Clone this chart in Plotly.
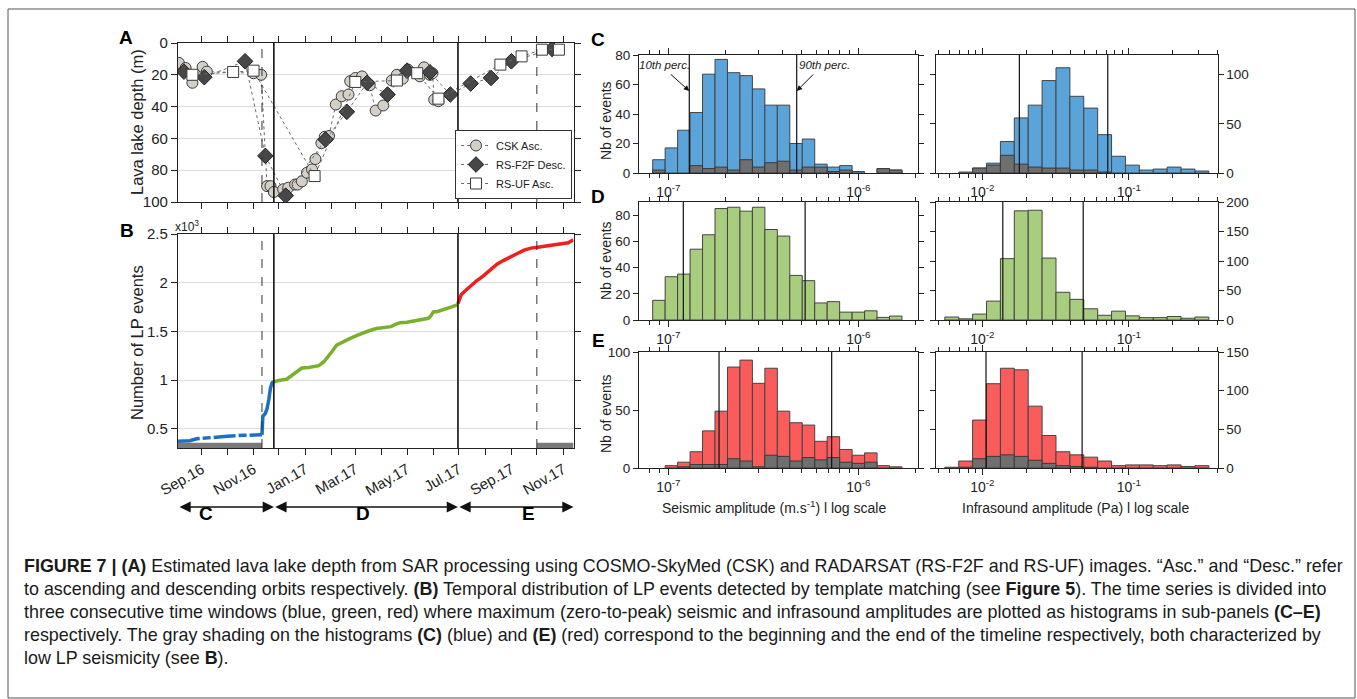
import numpy as np
import plotly.graph_objects as go

W, H = 1357, 699
def px(x): return x / W
def py(y): return 1 - y / H

FONT = "Liberation Sans, Arial, Helvetica, sans-serif"
TXT = "#222222"
AX = "#222222"

# ---------------- Panel A : lava lake depth ----------------
csk_dates = ["2016-08-05", "2016-08-13", "2016-08-21", "2016-09-02", "2016-09-07", "2016-11-01",
             "2016-11-10", "2016-11-17", "2016-11-21", "2016-11-25", "2016-12-06", "2016-12-12",
             "2016-12-20", "2016-12-23", "2016-12-28", "2017-01-03", "2017-01-09", "2017-01-13",
             "2017-01-20", "2017-01-24", "2017-01-29", "2017-02-06", "2017-02-13", "2017-02-21",
             "2017-02-23", "2017-03-01", "2017-03-09", "2017-03-18", "2017-03-25", "2017-04-03",
             "2017-04-13", "2017-04-19", "2017-04-26", "2017-05-02", "2017-05-16", "2017-05-21",
             "2017-05-28", "2017-05-31", "2017-06-02", "2017-06-07"]
csk_depth = [12.5, 15.7, 25, 15, 18, 19, 20, 90, 90, 93.7, 92, 91, 89, 89, 87, 81.6, 79.5, 73,
             63, 59, 58.5, 38.7, 33.5, 32.4, 24, 22, 21, 26.6, 42.5, 39.3, 23.6, 20, 22.4, 16.7,
             21, 15.3, 20, 19, 35.6, 36.6]

f2f_dates = ["2016-08-11", "2016-09-04", "2016-10-22", "2016-11-15", "2016-12-09", "2017-01-25",
             "2017-02-19", "2017-03-15", "2017-04-08", "2017-05-01", "2017-05-28", "2017-06-21",
             "2017-07-15", "2017-08-08", "2017-09-01", "2017-10-19"]
f2f_depth = [18, 21.5, 11.5, 71, 96, 60.7, 43.3, 25, 32.4, 17.4, 18.4, 32.4, 25.5, 22, 11.5, 3.8]

uf_dates = ["2016-08-21", "2016-10-08", "2016-11-01", "2017-01-12", "2017-03-01", "2017-04-19",
            "2017-05-13", "2017-06-07", "2017-08-19", "2017-09-13", "2017-10-07", "2017-10-27"]
uf_depth = [20, 18.2, 17.4, 83.7, 24.5, 23.6, 19, 35, 13.6, 8.4, 4.2, 4.2]

# ---------------- Panel B : cumulative LP events (x10^3) ----------------
blue_flat_dates = ["2016-08-04", "2016-08-18", "2016-08-26", "2016-09-11", "2016-10-01",
                   "2016-10-20", "2016-11-11"]
blue_flat_vals = [0.374, 0.38, 0.40, 0.415, 0.425, 0.435, 0.44]
blue_steep_dates = ["2016-11-11", "2016-11-12", "2016-11-15", "2016-11-17", "2016-11-19",
                    "2016-11-21", "2016-11-23", "2016-11-25"]
blue_steep_vals = [0.44, 0.63, 0.66, 0.71, 0.80, 0.92, 0.975, 0.985]

green_dates = ["2016-11-25", "2016-11-28", "2016-12-02", "2016-12-10", "2016-12-16", "2016-12-22",
               "2016-12-28", "2017-01-05", "2017-01-11", "2017-01-17", "2017-01-23", "2017-01-28",
               "2017-02-02", "2017-02-07", "2017-02-11", "2017-02-16", "2017-02-23", "2017-03-03",
               "2017-03-11", "2017-03-18", "2017-03-26", "2017-04-05", "2017-04-12", "2017-04-18",
               "2017-04-23", "2017-05-01", "2017-05-12", "2017-05-20", "2017-05-26", "2017-05-29",
               "2017-06-01", "2017-06-06", "2017-06-12", "2017-06-20", "2017-06-30"]
green_vals = [0.985, 0.995, 1.0, 1.01, 1.05, 1.09, 1.125, 1.13, 1.14, 1.15, 1.19, 1.24, 1.30,
              1.36, 1.38, 1.40, 1.43, 1.46, 1.49, 1.51, 1.53, 1.545, 1.55, 1.575, 1.59, 1.595,
              1.61, 1.625, 1.635, 1.66, 1.70, 1.705, 1.72, 1.745, 1.775]

red_dates = ["2017-06-30", "2017-07-02", "2017-07-04", "2017-07-09", "2017-07-14", "2017-07-22",
             "2017-07-30", "2017-08-07", "2017-08-15", "2017-08-23", "2017-08-31", "2017-09-08",
             "2017-09-16", "2017-09-24", "2017-10-02", "2017-10-10", "2017-10-17", "2017-10-25",
             "2017-11-01", "2017-11-07", "2017-11-13"]
red_vals = [1.785, 1.84, 1.88, 1.92, 1.96, 2.02, 2.07, 2.13, 2.19, 2.23, 2.27, 2.30, 2.335,
            2.355, 2.365, 2.375, 2.38, 2.39, 2.40, 2.41, 2.44]

time_range = ["2016-08-04", "2017-11-13 05:00"]
month_ticks = ["2016-09-01", "2016-10-01", "2016-11-01", "2016-12-01", "2017-01-01", "2017-02-01",
               "2017-03-01", "2017-04-01", "2017-05-01", "2017-06-01", "2017-07-01", "2017-08-01",
               "2017-09-01", "2017-10-01", "2017-11-01"]
month_labels = ["Sep.16", "", "Nov.16", "", "Jan.17", "", "Mar.17", "", "May.17", "", "Jul.17", "",
                "Sep.17", "", "Nov.17"]

window_bounds = ["2016-11-25", "2017-06-30"]      # solid lines (C | D | E)
quiet_bounds = ["2016-11-11", "2017-10-01"]       # dashed lines
quiet_periods = [("2016-08-04", "2016-11-11"), ("2017-10-01", "2017-11-13 05:00")]
quiet_top = 0.36
window_names = ["C", "D", "E"]
window_label_dates = ["2016-09-06", "2017-03-10", "2017-09-21"]

# ---------------- Histograms ----------------
SEIS_FIRST_EDGE = 8.28e-8
SEIS_BIN_RATIO = 1.163
N_SEIS = 20
INFRA_FIRST_EDGE = 0.00555
INFRA_BIN_RATIO = 1.244
N_INFRA = 19

c_seis_all = [9, 17, 29, 41, 67, 77, 68, 66, 57, 46, 46, 20, 23, 6, 4, 5, 1, 0, 3, 2]
c_seis_quiet = [2, 0, 0, 5, 3, 4, 2, 9, 4, 7, 8, 2, 4, 4, 1, 2, 0, 0, 3, 2]
c_infra_all = [0, 1, 5, 10, 32, 56, 69, 94, 107, 78, 66, 39, 17, 8, 3, 4, 6, 4, 2]
c_infra_quiet = [0, 0, 5, 8, 18, 9, 6, 5, 5, 3, 3, 1, 0, 0, 0, 0, 0, 0, 0]

d_seis_all = [15, 33, 35, 54, 65, 85, 86, 83, 86, 69, 64, 34, 30, 13, 14, 6, 6, 7, 2, 3]
d_infra_all = [5, 2, 10, 32, 104, 185, 186, 105, 47, 35, 19, 8, 15, 7, 4, 4, 6, 3, 5]

e_seis_all = [0, 2, 5, 14, 32, 49, 87, 93, 73, 86, 49, 39, 37, 23, 27, 16, 11, 13, 2, 1]
e_seis_quiet = [0, 0, 1, 3, 3, 3, 8, 6, 1, 11, 10, 6, 9, 7, 9, 5, 4, 5, 0, 0]
e_infra_all = [1, 9, 62, 109, 129, 127, 80, 42, 21, 17, 14, 9, 3, 4, 4, 3, 4, 2, 3]
e_infra_quiet = [0, 1, 12, 15, 17, 15, 10, 6, 3, 2, 1, 0, 0, 0, 0, 0, 0, 0, 0]

# 10th / 90th percentiles
c_seis_perc = [1.29e-7, 4.74e-7]
c_infra_perc = [0.0179, 0.0718]
d_seis_perc = [1.20e-7, 5.25e-7]
d_infra_perc = [0.0138, 0.0488]
e_seis_perc = [1.85e-7, 7.24e-7]
e_infra_perc = [0.0106, 0.0480]

seis_major = [1e-7, 1e-6]
seis_major_labels = ["10<sup>-7</sup>", "10<sup>-6</sup>"]
infra_major = [1e-2, 1e-1]
infra_major_labels = ["10<sup>-2</sup>", "10<sup>-1</sup>"]

# ---------------- styles ----------------
C_BLUE_LINE, C_GREEN_LINE, C_RED_LINE = "#1c6fc1", "#7bb02d", "#f11e1e"
C_BLUE_BAR, C_GREEN_BAR, C_RED_BAR = "#5ba4da", "#a9cd7e", "#fa5c5c"
C_GRAY_BAR = "#6f6f6f"

fig = go.Figure()

# ---- Panel A
dot = dict(color="#6a6a6a", width=1, dash="dot")
fig.add_trace(go.Scatter(x=csk_dates, y=csk_depth, mode="lines+markers", name="CSK Asc.", line=dot,
                         marker=dict(symbol="circle", size=11, color="#d4d0c8",
                                     line=dict(color="#3a3a3a", width=1)),
                         xaxis="x", yaxis="y"))
fig.add_trace(go.Scatter(x=f2f_dates, y=f2f_depth, mode="lines+markers", name="RS-F2F Desc.", line=dot,
                         marker=dict(symbol="diamond", size=12, color="#474747",
                                     line=dict(color="#222", width=1)),
                         xaxis="x", yaxis="y"))
fig.add_trace(go.Scatter(x=uf_dates, y=uf_depth, mode="lines+markers", name="RS-UF Asc.", line=dot,
                         marker=dict(symbol="square", size=11, color="white",
                                     line=dict(color="#3a3a3a", width=1)),
                         xaxis="x", yaxis="y"))

# ---- Panel B
fig.add_trace(go.Scatter(x=blue_flat_dates, y=blue_flat_vals, mode="lines", showlegend=False,
                         line=dict(color=C_BLUE_LINE, width=3.5, dash="22px,3px,8px,3px"),
                         xaxis="x2", yaxis="y2"))
fig.add_trace(go.Scatter(x=blue_steep_dates, y=blue_steep_vals, mode="lines", showlegend=False,
                         line=dict(color=C_BLUE_LINE, width=3.5), xaxis="x2", yaxis="y2"))
fig.add_trace(go.Scatter(x=green_dates, y=green_vals, mode="lines", showlegend=False,
                         line=dict(color=C_GREEN_LINE, width=3.5), xaxis="x2", yaxis="y2"))
fig.add_trace(go.Scatter(x=red_dates, y=red_vals, mode="lines", showlegend=False,
                         line=dict(color=C_RED_LINE, width=3.5), xaxis="x2", yaxis="y2"))

# ---- Histograms
seis_edges = np.log10(SEIS_FIRST_EDGE) + np.arange(N_SEIS + 1) * np.log10(SEIS_BIN_RATIO)
infra_edges = np.log10(INFRA_FIRST_EDGE) + np.arange(N_INFRA + 1) * np.log10(INFRA_BIN_RATIO)

def nz(v):
    return [c if c > 0 else None for c in v]

panels = [
    ("x3", "y3", seis_edges, c_seis_all, c_seis_quiet, C_BLUE_BAR, c_seis_perc),
    ("x4", "y4", infra_edges, c_infra_all, c_infra_quiet, C_BLUE_BAR, c_infra_perc),
    ("x5", "y5", seis_edges, d_seis_all, None, C_GREEN_BAR, d_seis_perc),
    ("x6", "y6", infra_edges, d_infra_all, None, C_GREEN_BAR, d_infra_perc),
    ("x7", "y7", seis_edges, e_seis_all, e_seis_quiet, C_RED_BAR, e_seis_perc),
    ("x8", "y8", infra_edges, e_infra_all, e_infra_quiet, C_RED_BAR, e_infra_perc),
]

shapes = []
for xa, ya, edges, main, quiet, col, perc in panels:
    centers = (edges[:-1] + edges[1:]) / 2
    width = edges[1] - edges[0]
    fig.add_trace(go.Bar(x=centers, y=nz(main), width=width,
                         marker=dict(color=col, line=dict(color="#444", width=1)),
                         showlegend=False, xaxis=xa, yaxis=ya))
    if quiet is not None:
        fig.add_trace(go.Bar(x=centers, y=nz(quiet), width=width,
                             marker=dict(color=C_GRAY_BAR, line=dict(color="#3a3a3a", width=1)),
                             showlegend=False, xaxis=xa, yaxis=ya))
    for p in perc:
        shapes.append(dict(type="line", xref=xa, yref=ya + " domain", x0=np.log10(p), x1=np.log10(p),
                           y0=0, y1=1, line=dict(color="#111", width=1.2)))

# ---- vertical time lines in A and B
for xr, yr in [("x", "y domain"), ("x2", "y2 domain")]:
    for d in window_bounds:
        shapes.append(dict(type="line", xref=xr, yref=yr, x0=d, x1=d, y0=0, y1=1,
                           line=dict(color="#111", width=1.6)))
    for d in quiet_bounds:
        shapes.append(dict(type="line", xref=xr, yref=yr, x0=d, x1=d, y0=0, y1=1,
                           line=dict(color="#333", width=1, dash="dash")))
for a, b in quiet_periods:
    shapes.append(dict(type="rect", xref="x2", yref="y2", x0=a, x1=b, y0=0.305, y1=quiet_top,
                       fillcolor="#7a7a7a", line=dict(width=0), layer="below"))

# outer frame
shapes.append(dict(type="rect", xref="paper", yref="paper", x0=px(8), x1=px(1355), y0=py(698), y1=py(9),
                   line=dict(color="#555", width=1)))

# ---------------- axes ----------------
common_ax = dict(showline=True, linecolor=AX, linewidth=1.2, mirror="ticks", ticks="outside",
                 tickcolor=AX, tickwidth=1, zeroline=False, automargin=False,
                 tickfont=dict(family=FONT, color=TXT))

layout_axes = {}
layout_axes["xaxis"] = dict(common_ax, domain=[px(178), px(573.5)], type="date", range=time_range,
                            tickmode="array", tickvals=month_ticks, ticktext=month_labels,
                            showticklabels=False, ticklen=6, showgrid=False, anchor="y")
layout_axes["yaxis"] = dict(common_ax, domain=[py(202), py(43)], range=[100, 0],
                            tickvals=[0, 20, 40, 60, 80, 100],
                            ticklen=6, showgrid=True, gridcolor="#dedede", gridwidth=1, anchor="x",
                            tickfont=dict(family=FONT, color=TXT, size=15))
layout_axes["xaxis2"] = dict(common_ax, domain=[px(178), px(573.5)], type="date", range=time_range,
                             matches="x", tickmode="array", tickvals=month_ticks, ticktext=month_labels,
                             tickangle=-30, ticklen=6, showgrid=False, anchor="y2",
                             tickfont=dict(family=FONT, color=TXT, size=15))
layout_axes["yaxis2"] = dict(common_ax, domain=[py(448), py(234)], range=[0.305, 2.5],
                             tickvals=[0.5, 1, 1.5, 2, 2.5], ticktext=["0.5", "1", "1.5", "2", "2.5"],
                             ticklen=6, showgrid=True, gridcolor="#dedede", gridwidth=1, anchor="x2",
                             tickfont=dict(family=FONT, color=TXT, size=15))

seis_range = [-7.154, -5.686]
infra_range = [-2.316, -0.395]
seis_minor = [np.log10(k * 10.0 ** n) for n in (-8, -7, -6) for k in range(2, 10)]
infra_minor = [np.log10(k * 10.0 ** n) for n in (-3, -2, -1) for k in range(2, 10)]

left_dom = [px(639), px(918)]
right_dom = [px(936), px(1217.5)]
rows = [(55, 173), (202, 320), (352, 468)]
y_ticks = [([0, 20, 40, 60, 80], [0, 80]), ([0, 50, 100], [0, 120]),
           ([0, 20, 40, 60, 80], [0, 90]), ([0, 50, 100, 150, 200], [0, 200]),
           ([0, 50, 100], [0, 100]), ([0, 50, 100, 150], [0, 150])]

for i in range(6):
    n = i + 3
    row = rows[i // 2]
    is_left = (i % 2 == 0)
    layout_axes[f"xaxis{n}"] = dict(common_ax, domain=left_dom if is_left else right_dom,
                                    range=seis_range if is_left else infra_range,
                                    tickmode="array",
                                    tickvals=list(np.log10(seis_major if is_left else infra_major)),
                                    ticktext=seis_major_labels if is_left else infra_major_labels,
                                    ticklen=6, showgrid=False, anchor=f"y{n}",
                                    tickfont=dict(family=FONT, color=TXT, size=14),
                                    minor=dict(tickmode="array",
                                               tickvals=seis_minor if is_left else infra_minor,
                                               ticks="outside", ticklen=4, tickcolor=AX, showgrid=False))
    tv, rg = y_ticks[i]
    layout_axes[f"yaxis{n}"] = dict(common_ax, domain=[py(row[1]), py(row[0])], range=rg, tickvals=tv,
                                    ticklen=5, showgrid=False, anchor=f"x{n}",
                                    side="left" if is_left else "right",
                                    tickfont=dict(family=FONT, color=TXT, size=13.5))

# ---------------- annotations ----------------
ann = []
def label(x, y, text, size=15, bold=False, angle=0, xanchor="center", color=TXT):
    t = f"<b>{text}</b>" if bold else text
    ann.append(dict(xref="paper", yref="paper", x=px(x), y=py(y), text=t, showarrow=False,
                    textangle=angle, xanchor=xanchor, yanchor="middle",
                    font=dict(family=FONT, size=size, color=color)))

for letter, (lx, ly) in zip(["A", "B", "C", "D", "E"],
                            [(126, 38), (127, 230), (598, 40), (598, 196), (598, 341)]):
    label(lx, ly, letter, size=19, bold=True, color="#000")

label(137, 122, "Lava lake depth (m)", size=16.5, angle=-90)
label(137, 343, "Number of LP events", size=16.5, angle=-90)
label(187, 226, "x10<sup>3</sup>", size=12)
for yc in (121, 261, 414):
    label(606, yc, "Nb of events", size=14, angle=-90)
label(774, 507, "Seismic amplitude (m.s<sup>-1</sup>) l log scale", size=14)
label(1075, 508, "Infrasound amplitude (Pa) l log scale", size=14)

# percentile call-outs on panel C (seismic)
for p, dx, txt, shift in [(c_seis_perc[0], -20, "10th perc.", -25), (c_seis_perc[1], 18, "90th perc.", 28)]:
    ann.append(dict(xref="x3", yref="y3", x=np.log10(p), y=55.6, ax=dx, ay=-18, text="",
                    showarrow=True, arrowhead=2, arrowsize=1.1, arrowwidth=1, arrowcolor="#111"))
    ann.append(dict(xref="x3", yref="y3", x=np.log10(p), y=73.2, xshift=shift, text=f"<i>{txt}</i>",
                    showarrow=False, font=dict(family=FONT, size=11.5, color=TXT)))

# time-window arrows under panel B
arrow_edges = [time_range[0]] + window_bounds + [time_range[1]]
for k in range(3):
    ann.append(dict(xref="x2", yref="paper", x=arrow_edges[k + 1], y=py(507),
                    axref="x2", ayref="pixel", ax=arrow_edges[k], ay=0, text="", showarrow=True,
                    arrowside="end+start", arrowhead=2, arrowsize=1.4, arrowwidth=1.6,
                    arrowcolor="#111"))
for name, xm in zip(window_names, window_label_dates):
    ann.append(dict(xref="x2", yref="paper", x=xm, y=py(526), text=f"<b>{name}</b>", showarrow=False,
                    font=dict(family=FONT, size=19, color="#000")))

# caption
caption = [
    "<b>FIGURE 7 | (A)</b> Estimated lava lake depth from SAR processing using COSMO-SkyMed (CSK) and RADARSAT (RS-F2F and RS-UF) images. \u201cAsc.\u201d and \u201cDesc.\u201d refer",
    "to ascending and descending orbits respectively. <b>(B)</b> Temporal distribution of LP events detected by template matching (see <b>Figure 5</b>). The time series is divided into",
    "three consecutive time windows (blue, green, red) where maximum (zero-to-peak) seismic and infrasound amplitudes are plotted as histograms in sub-panels <b>(C\u2013E)</b>",
    "respectively. The gray shading on the histograms <b>(C)</b> (blue) and <b>(E)</b> (red) correspond to the beginning and the end of the timeline respectively, both characterized by",
    "low LP seismicity (see <b>B</b>).",
]
for j, line in enumerate(caption):
    label(22, 566 + j * 23, line, size=17.9, xanchor="left", color="#1a1a1a")

fig.update_layout(
    template="none",
    width=W, height=H, margin=dict(l=0, r=0, t=0, b=0, pad=0), autosize=False,
    paper_bgcolor="white", plot_bgcolor="white", barmode="overlay",
    font=dict(family=FONT, color=TXT),
    shapes=shapes, annotations=ann,
    legend=dict(x=px(572), xanchor="right", y=py(199), yanchor="bottom", bordercolor="#333", borderwidth=1,
                bgcolor="white", font=dict(family=FONT, size=11, color=TXT), tracegroupgap=0,
                itemwidth=30),
    **layout_axes,
)

fig.write_html("out.html")
